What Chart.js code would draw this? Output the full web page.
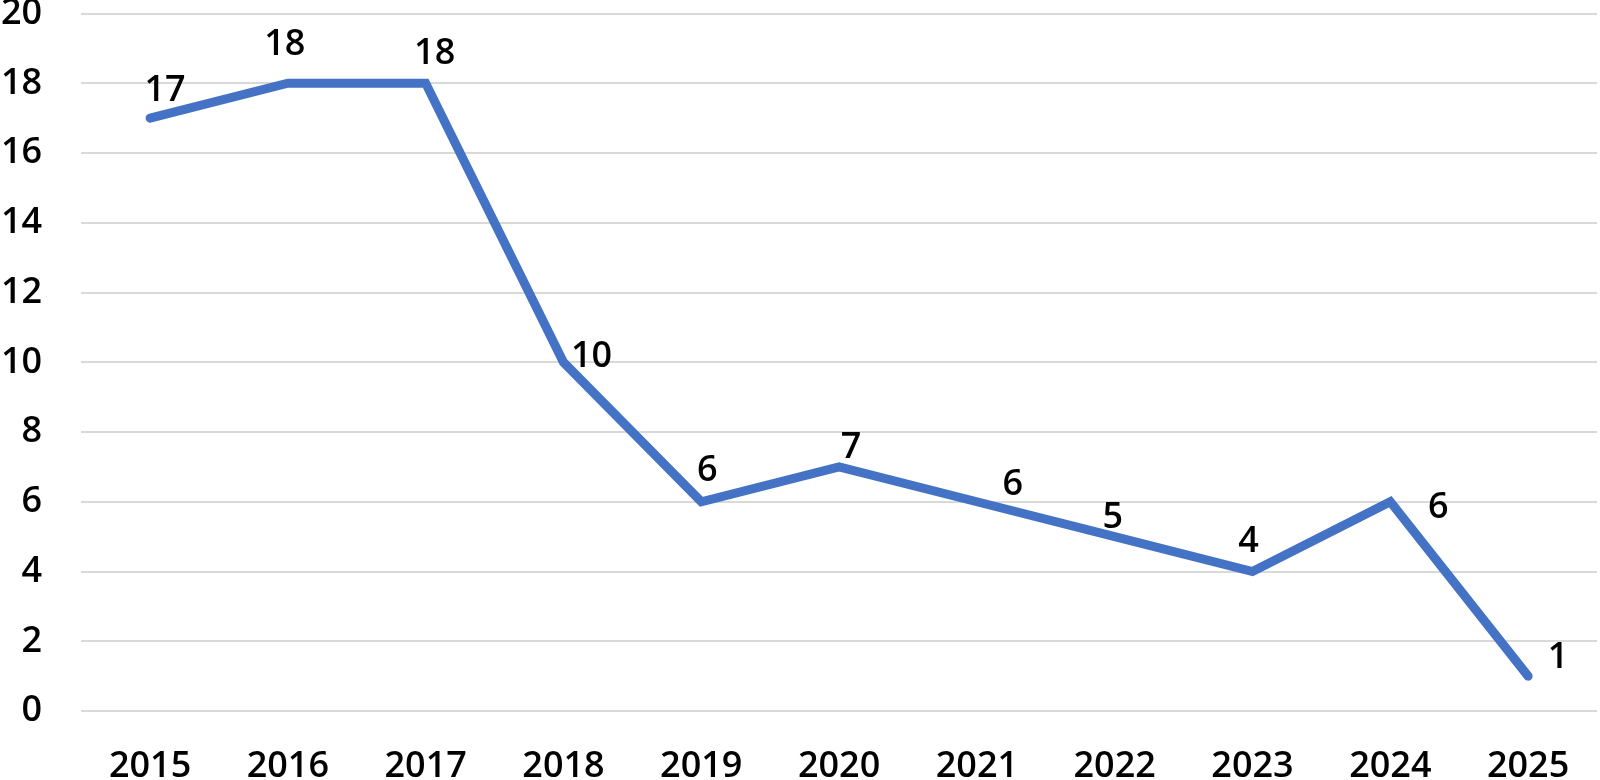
<!DOCTYPE html>
<html><head><meta charset="utf-8">
<script src="https://cdn.jsdelivr.net/npm/chart.js@4"></script>
<style>html,body{margin:0;padding:0;background:#fff}#wrap{width:1600px;height:780px}</style>
</head><body><div id="wrap"><canvas id="c" width="1600" height="780"></canvas></div>
<script>
const categories = ['2015','2016','2017','2018','2019','2020','2021','2022','2023','2024','2025'];
const values = [17, 18, 18, 10, 6, 7, 6, 5, 4, 6, 1];
const yTicks = [0, 2, 4, 6, 8, 10, 12, 14, 16, 18, 20];

const FONT = 'Open Sans';
const FSIZE = 36;
const FWEIGHT = 600;
const labelOffsets = [[15,-30],[-3,-41],[9,-32],[28,-8],[6,-34],[12,-22],[36,-20],[-2,-22],[-4,-33],[48,3],[30,-21]];

const dataLabels = {
  id: 'dataLabels',
  afterDatasetsDraw(chart) {
    const ctx = chart.ctx;
    const meta = chart.getDatasetMeta(0);
    ctx.save();
    ctx.font = FWEIGHT + ' ' + FSIZE + 'px "' + FONT + '"';
    ctx.fillStyle = '#000';
    ctx.textAlign = 'center';
    ctx.textBaseline = 'alphabetic';
    meta.data.forEach((pt, i) => {
      const o = labelOffsets[i];
      const txt = String(chart.data.datasets[0].data[i]);
      const m = ctx.measureText(txt);
      const h = m.actualBoundingBoxAscent - m.actualBoundingBoxDescent;
      ctx.fillText(txt, pt.x + o[0], pt.y + o[1] + h / 2);
    });
    ctx.restore();
  }
};

new Chart(document.getElementById('c'), {
  type: 'line',
  data: {
    labels: categories,
    datasets: [{
      data: values,
      borderColor: '#4472C4',
      borderWidth: 9,
      borderCapStyle: 'round',
      borderJoinStyle: 'miter',
      pointRadius: 0,
      tension: 0,
      fill: false
    }]
  },
  options: {
    responsive: false,
    animation: false,
    layout: { padding: { left: 1, right: 3, top: 0, bottom: 0 } },
    plugins: { legend: { display: false }, tooltip: { enabled: false } },
    scales: {
      x: {
        offset: true,
        grid: { display: true, drawOnChartArea: false, drawTicks: true, tickLength: 42, tickColor: 'rgba(0,0,0,0)', color: 'rgba(0,0,0,0)' },
        border: { display: false },
        ticks: { color: '#000', padding: 0, maxRotation: 0, autoSkip: false, font: { family: FONT, size: FSIZE, weight: FWEIGHT, lineHeight: 0.75 } }
      },
      y: {
        min: yTicks[0], max: yTicks[yTicks.length - 1],
        afterBuildTicks(scale) { scale.ticks = yTicks.map(v => ({ value: v })); },
        grid: { color: '#d9d9d9', lineWidth: 2, drawTicks: true, tickLength: 39, tickColor: 'rgba(0,0,0,0)' },
        border: { display: false },
        ticks: { color: '#000', padding: 0, font: { family: FONT, size: FSIZE, weight: FWEIGHT, lineHeight: 0.75 } }
      }
    }
  },
  plugins: [dataLabels]
});
</script></body></html>
